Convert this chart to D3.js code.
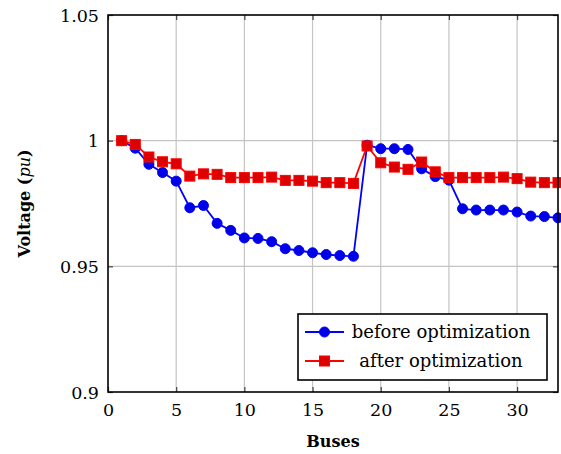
<!DOCTYPE html>
<html>
<head>
<meta charset="utf-8">
<script src="https://cdn.jsdelivr.net/npm/d3@7"></script>
<style>
  body { margin: 0; background: #fff; }
  svg { display: block; }
  text { font-family: "DejaVu Serif", "Liberation Serif", serif; fill: #000; }
</style>
</head>
<body>
<svg id="chart" width="561" height="454"></svg>
<script>
const buses = d3.range(1, 34);
const beforeOpt = [
    1.0, 0.997, 0.9906, 0.9873, 0.9839, 0.9733, 0.9742, 0.9671, 0.9643, 0.9613,
    0.9611, 0.9598, 0.957, 0.9563, 0.9554, 0.9547, 0.9543, 0.954, 0.9982, 0.9968,
    0.9968, 0.9965, 0.9888, 0.9857, 0.9843, 0.9729, 0.9724, 0.9724, 0.9724, 0.9716,
    0.97, 0.9698, 0.9693,
];
const afterOpt = [
    1.0, 0.9985, 0.9935, 0.9916, 0.9908, 0.9859, 0.9868, 0.9866, 0.9853, 0.9853,
    0.9853, 0.9855, 0.9842, 0.9842, 0.9839, 0.9833, 0.9833, 0.983, 0.9979, 0.9912,
    0.9895, 0.9886, 0.9915, 0.9876, 0.9853, 0.9853, 0.9853, 0.9853, 0.9855, 0.9849,
    0.9835, 0.9833, 0.9833,
];
const xTicks = [0, 5, 10, 15, 20, 25, 30];
const yTicks = [0.9, 0.95, 1, 1.05];
const yTickLabels = ["0.9", "0.95", "1", "1.05"];

const pL = 108, pR = 558, pT = 15, pB = 392;
const svg = d3.select("#chart");

let scX = d3.scaleLinear().domain([0, 33]).range([pL, pR]);
let scY = d3.scaleLinear().domain([0.9, 1.05]).range([pB, pT]);

// grid
svg.append("g")
    .selectAll("line")
    .data(xTicks.filter((d) => d > 0))
    .enter()
    .append("line")
    .attr("x1", (d) => scX(d)).attr("x2", (d) => scX(d))
    .attr("y1", pT).attr("y2", pB)
    .attr("stroke", "#c4c4c4").attr("stroke-width", 1.2);
svg.append("g")
    .selectAll("line")
    .data(yTicks.slice(1, 3))
    .enter()
    .append("line")
    .attr("x1", pL).attr("x2", pR)
    .attr("y1", (d) => scY(d)).attr("y2", (d) => scY(d))
    .attr("stroke", "#c4c4c4").attr("stroke-width", 1.2);

// axes (ticks inside, labels only bottom / left)
let axB = svg.append("g").attr("transform", `translate(0,${pB})`)
    .call(d3.axisBottom(scX).tickValues(xTicks).tickSize(-5).tickPadding(12));
let axL = svg.append("g").attr("transform", `translate(${pL},0)`)
    .call(d3.axisLeft(scY).tickValues(yTicks).tickSize(-5).tickPadding(9)
        .tickFormat((d, i) => yTickLabels[i]));
svg.append("g").attr("transform", `translate(0,${pT})`)
    .call(d3.axisTop(scX).tickValues(xTicks).tickSize(-5).tickFormat(""));
svg.append("g").attr("transform", `translate(${pR},0)`)
    .call(d3.axisRight(scY).tickValues(yTicks).tickSize(-5).tickFormat(""));
svg.selectAll(".domain").remove();
svg.selectAll(".tick line").attr("stroke", "#444").attr("stroke-width", 1.2);
svg.selectAll(".tick text")
    .attr("font-family", "DejaVu Serif, serif")
    .attr("font-size", 17.5)
    .attr("fill", "#000");
axL.selectAll(".tick text").attr("dy", "0.35em");

// series
const series = [
    { name: "before optimization", values: beforeOpt, color: "#0000ff", fill: "#0000e6", mark: "circle" },
    { name: "after optimization", values: afterOpt, color: "#ff0000", fill: "#dd0000", mark: "square" },
];
const line = d3.line().x((d) => scX(d[0])).y((d) => scY(d[1]));

function drawMark(g, kind, x, y, s) {
    if (kind === "circle") {
        g.append("circle").attr("cx", x).attr("cy", y).attr("r", 5)
            .attr("fill", s.fill).attr("stroke", s.color).attr("stroke-width", 1);
    } else {
        g.append("rect").attr("x", x - 5).attr("y", y - 5).attr("width", 10).attr("height", 10)
            .attr("fill", s.fill).attr("stroke", s.color).attr("stroke-width", 1);
    }
}

series.forEach((s) => {
    let g = svg.append("g");
    let pts = buses.map((b, i) => [b, s.values[i]]);
    g.append("path").attr("d", line(pts)).attr("fill", "none")
        .attr("stroke", s.color).attr("stroke-width", 1.8);
    pts.forEach((p) => drawMark(g, s.mark, scX(p[0]), scY(p[1]), s));
});

// frame
svg.append("rect").attr("x", pL).attr("y", pT)
    .attr("width", pR - pL).attr("height", pB - pT)
    .attr("fill", "none").attr("stroke", "#000").attr("stroke-width", 1.6);

// legend
let lg = svg.append("g");
lg.append("rect").attr("x", 298).attr("y", 314).attr("width", 249).attr("height", 66)
    .attr("fill", "#fff").attr("stroke", "#000").attr("stroke-width", 1.6);
series.forEach((s, i) => {
    let y = 332 + i * 29;
    lg.append("line").attr("x1", 305).attr("x2", 344).attr("y1", y).attr("y2", y)
        .attr("stroke", s.color).attr("stroke-width", 1.8);
    drawMark(lg, s.mark, 324.5, y, s);
    lg.append("text").attr("x", 441).attr("y", y).attr("dy", "0.32em")
        .attr("text-anchor", "middle").attr("font-size", 18).text(s.name);
});

// axis titles
svg.append("text").attr("x", (pL + pR) / 2).attr("y", 447)
    .attr("text-anchor", "middle").attr("font-size", 16).attr("font-weight", "bold")
    .text("Buses");
let yl = svg.append("text")
    .attr("transform", `translate(30,${(pT + pB) / 2}) rotate(-90)`)
    .attr("text-anchor", "middle").attr("font-size", 16).attr("font-weight", "bold");
yl.append("tspan").text("Voltage (");
yl.append("tspan").attr("font-style", "italic").attr("font-weight", "normal").text("pu");
yl.append("tspan").text(")");
</script>
</body>
</html>
